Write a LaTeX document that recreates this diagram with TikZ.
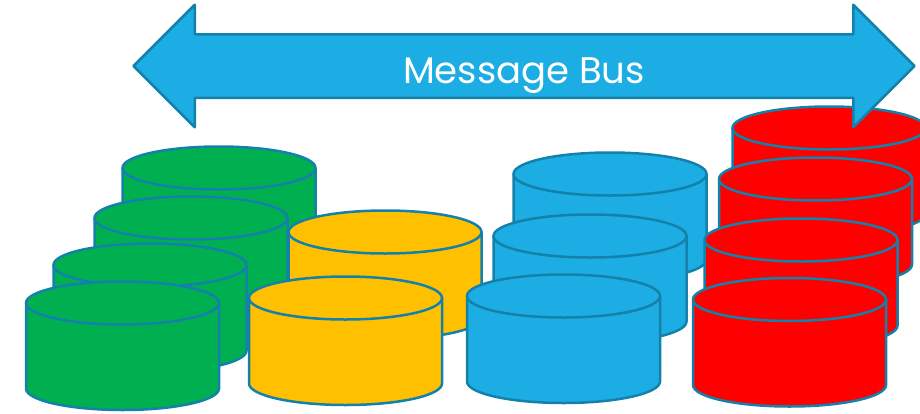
\documentclass[tikz,border=0pt]{standalone}
\usepackage{fontspec}
\setmainfont{Poppins}
\usetikzlibrary{shapes.arrows}
\definecolor{busblue}{HTML}{1CADE4}
\definecolor{edgeblue}{HTML}{1481AB}
\definecolor{storegreen}{HTML}{00B050}
\definecolor{storeyellow}{HTML}{FFC000}
\definecolor{storered}{HTML}{FF0000}
\tikzset{
  store/.style={draw=edgeblue,line width=2.5pt,line join=round},
  bus/.style={shape=double arrow,double arrow head extend=29.5pt,draw=edgeblue,fill=busblue,line width=2.5pt,
    line join=round,minimum width=120pt,minimum height=781pt,inner sep=0pt,outer sep=0pt,text=white,
    text height=47.5pt,text depth=13.5pt,font=\fontsize{37}{37}\selectfont}
}

\begin{document}
\begin{tikzpicture}[x=1pt,y=-1pt]
\useasboundingbox (0,0) rectangle (920,413);

% back to front
\foreach \cx/\cy/\col in {219/168/storegreen,191/218/storegreen,150/265/storegreen,122.5/303/storegreen,
  385/232/storeyellow,345.5/298/storeyellow,
  610/174/busblue,590/236/busblue,563.5/296/busblue,
  829/128/storered,815.5/179/storered,801/240/storered,789.5/299.5/storered}
{
  \draw[store,fill=\col] (\cx-96.5,\cy) -- (\cx-96.5,\cy+85.5) arc (180:0:96.5 and 21.5) -- (\cx+96.5,\cy) -- cycle;
  \draw[store,fill=\col] (\cx,\cy) ellipse (96.5 and 21.5);
}

\node[bus] (msgbus) at (524,66) {Message Bus};

\end{tikzpicture}
\end{document}
